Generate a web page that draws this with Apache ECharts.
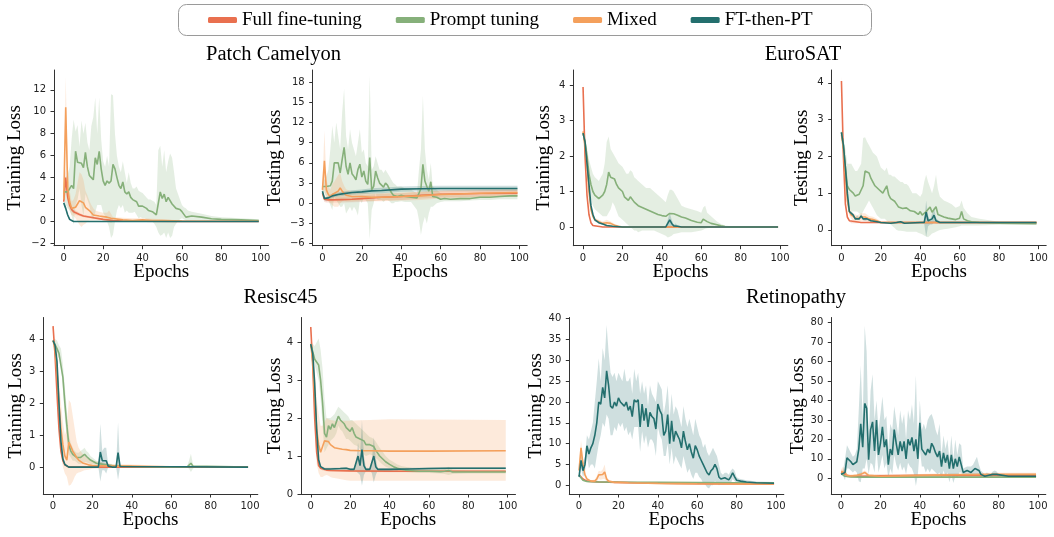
<!DOCTYPE html>
<html>
<head>
<meta charset="utf-8">
<script src="https://cdn.jsdelivr.net/npm/echarts@6/dist/echarts.min.js"></script>
<style>
  html, body { margin: 0; padding: 0; background: #fff; }
  #chart { width: 1054px; height: 537px; }
</style>
</head>
<body>
<div id="chart"></div>
<script>
// rows are [epoch, mean, lower, upper]
const seriesNames = ['Full fine-tuning', 'Prompt tuning', 'Mixed', 'FT-then-PT'];
const epochTicks = [0, 20, 40, 60, 80, 100];

// ---- Patch Camelyon, training
const pcTrFull = [[0,1.8,1.6,2.0],[1,4.0,3.2,4.8],[2,2.2,1.8,2.6],[3,1.5,1.2,1.8],[4,1.1,0.9,1.3],[5,0.9,0.7,1.1],[6,0.8,0.6,1.0],[8,0.65,0.5,0.8],[10,0.5,0.4,0.6],[15,0.35,0.25,0.45],[20,0.2,0.12,0.28],[25,0.1,0.05,0.15],[30,0.05,0.02,0.08],[40,0.02,0,0.04],[60,0.01,0,0.02],[99,0,0,0.01]];
const pcTrPT = [[0,2.7,2.0,3.5],[1,2.8,1.5,4.0],[2,2.7,1.2,4.3],[3,3.0,1.0,5.0],[4,3.3,0.5,7.5],[5,3.0,-0.3,9.3],[6,6.4,1.5,8.2],[7,5.4,2.0,8.8],[8,5.5,3.0,6.8],[9,5.3,1.5,9.2],[10,4.9,0.5,8.0],[11,6.3,2.5,9.0],[12,5.0,2.0,7.2],[13,4.2,1.5,6.5],[14,4.0,0.5,8.7],[15,3.8,0.2,9.5],[16,5.8,0.8,11.3],[17,5.2,1.5,8.0],[18,6.4,1.5,11.3],[19,4.8,1.5,7.5],[20,3.7,0.8,5.5],[21,3.3,0.5,5.0],[22,3.7,0.0,6.0],[23,3.5,-0.5,5.0],[24,3.7,-1.5,11.6],[25,5.2,-1.2,11.5],[26,4.8,0.0,8.0],[27,4.0,1.0,6.0],[28,3.3,1.5,5.0],[29,3.0,1.2,4.5],[30,3.6,1.5,5.5],[31,2.7,0.8,4.5],[32,2.5,1.0,3.5],[33,2.7,0.8,4.5],[34,2.2,0.8,3.5],[35,2.0,0.8,3.0],[36,2.0,0.9,3.0],[37,1.8,0.6,3.2],[38,1.4,0.3,2.8],[39,1.5,0.4,2.7],[40,1.4,0.3,2.6],[41,1.3,0.3,2.4],[42,1.2,0.2,2.2],[43,1.0,0.1,2.0],[44,1.0,0.0,2.0],[45,0.9,0.0,1.9],[46,0.8,-0.2,1.8],[47,0.6,-0.5,1.5],[48,0.6,-1.0,6.5],[49,2.7,-1.3,6.9],[50,2.1,-1.2,5.0],[51,2.5,-1.0,6.5],[52,1.8,-1.5,4.5],[53,2.2,-1.0,5.5],[54,2.3,-1.5,6.2],[55,1.6,-1.3,5.8],[56,1.7,-0.5,4.5],[57,1.2,-0.2,3.0],[58,1.2,0.0,2.5],[59,1.1,0.2,2.0],[60,0.9,0.3,1.5],[61,0.8,0.2,1.3],[62,0.4,0.1,1.2],[63,0.5,0.1,1.0],[65,0.5,0.1,0.9],[70,0.4,0.1,0.7],[75,0.25,0.05,0.5],[80,0.2,0.05,0.4],[90,0.15,0.02,0.3],[99,0.1,0,0.2]];
const pcTrMix = [[0,2.0,1.5,2.5],[1,10.4,7.5,13.2],[2,3.0,1.5,5.0],[3,1.8,1.0,2.8],[4,1.2,0.6,1.8],[5,1.2,0.5,2.0],[6,1.3,0.3,2.5],[7,1.6,0.0,3.5],[8,1.9,-0.3,4.5],[9,1.9,-0.5,4.3],[10,1.7,-0.3,3.8],[11,1.3,-0.2,2.8],[12,1.2,0.0,2.4],[13,1.0,0.1,1.9],[14,0.8,0.1,1.5],[15,0.6,0.1,1.2],[16,0.5,0.1,1.0],[18,0.5,0.1,0.9],[20,0.45,0.1,0.8],[22,0.4,0.0,0.8],[23,0.5,0.0,1.0],[24,0.3,-0.1,0.7],[25,0.15,0.0,0.4],[30,0.15,0.0,0.35],[35,0.1,0.0,0.3],[40,0.15,0.0,0.3],[45,0.1,0.0,0.25],[50,0.1,0.0,0.2],[60,0.05,0.0,0.1],[80,0.03,0,0.06],[99,0.02,0,0.04]];
const pcTrFtpt = [[0,1.7,1.5,1.9],[1,1.2,1.0,1.4],[2,0.6,0.45,0.75],[3,0.2,0.1,0.3],[4,0.05,0,0.1],[5,0.01,0,0.02],[10,0,0,0.01],[99,0,0,0.01]];
const pcTrTicks = [-2, 0, 2, 4, 6, 8, 10, 12];

// ---- Patch Camelyon, testing
const pcTeFull = [[0,1.5,1.0,2.0],[1,0.6,0.2,1.0],[2,0.5,0.1,0.9],[3,0.5,0.1,0.9],[5,0.5,0.1,0.9],[10,0.55,0.1,1.0],[15,0.6,0.15,1.05],[20,0.7,0.2,1.2],[25,0.8,0.3,1.3],[30,0.9,0.4,1.4],[40,1.0,0.5,1.5],[50,1.2,0.7,1.7],[60,1.35,0.85,1.85],[80,1.45,0.95,1.95],[99,1.5,1.0,2.0]];
const pcTePT = [[0,2.5,2.0,3.0],[1,2.5,1.5,3.5],[2,2.5,1.0,4.0],[3,2.7,0.5,5.0],[4,2.6,-0.3,8.0],[5,3.3,-1.0,11.5],[6,6.0,1.0,9.0],[7,5.8,0.5,12.0],[8,6.0,0.0,10.0],[9,4.5,-0.5,8.0],[10,6.5,-0.5,13.5],[11,8.3,0.0,17.0],[12,5.5,-1.5,10.0],[13,4.3,-1.0,8.0],[14,6.0,-0.5,11.0],[15,4.4,-1.2,9.0],[16,4.0,-0.5,8.0],[17,3.5,-1.0,7.0],[18,5.0,-1.8,9.0],[19,5.8,0.5,11.0],[20,3.9,0.0,7.5],[21,4.8,1.0,8.0],[22,3.3,0.5,6.0],[23,2.8,0.0,5.5],[24,6.8,-5.3,19.0],[25,2.0,-1.0,5.0],[26,2.5,0.0,5.5],[27,4.8,1.5,7.0],[28,3.8,0.5,6.0],[29,3.0,0.5,5.0],[30,2.8,0.5,5.0],[31,2.4,0.2,4.5],[32,3.0,0.5,5.0],[33,2.7,0.5,4.5],[34,2.1,0.3,4.0],[35,1.6,0.0,3.5],[36,1.2,0.0,3.0],[37,1.4,0.2,2.8],[38,1.0,0.2,2.5],[40,1.2,0.3,2.5],[42,1.0,0.2,2.2],[45,0.9,0.2,2.0],[48,0.8,-1.0,1.5],[49,1.5,-2.5,5.0],[50,2.2,-4.7,8.0],[51,5.8,-3.0,16.0],[52,3.3,-2.0,8.0],[53,2.5,-3.0,5.0],[54,1.8,-1.5,3.5],[55,3.2,-0.5,6.0],[56,1.0,-0.5,2.5],[58,0.9,0.0,2.0],[60,0.6,0.2,1.5],[62,0.7,0.3,1.3],[65,0.6,0.3,1.2],[70,0.7,0.3,1.2],[75,0.7,0.4,1.2],[80,0.9,0.5,1.2],[85,0.9,0.5,1.3],[90,1.0,0.6,1.3],[95,1.1,0.6,1.3],[99,1.1,0.6,1.4]];
const pcTeMix = [[0,2.0,1.2,2.8],[1,6.3,2.0,10.8],[2,2.0,0.5,3.5],[3,1.3,0.3,2.5],[4,1.0,0.0,2.0],[5,1.3,-0.3,2.9],[6,1.3,-0.5,3.2],[8,1.8,-0.5,4.2],[9,2.3,0.0,4.5],[10,1.8,0.3,3.3],[11,1.5,0.4,2.6],[12,1.2,0.3,2.1],[15,1.0,0.3,1.7],[20,1.0,0.4,1.6],[25,0.9,0.3,1.5],[30,0.9,0.3,1.5],[40,1.0,0.4,1.6],[50,1.1,0.5,1.7],[60,1.3,0.7,1.9],[80,1.5,0.9,2.1],[99,1.6,1.0,2.2]];
const pcTeFtpt = [[0,1.8,1.4,2.2],[1,0.7,0.4,1.0],[2,0.6,0.3,0.9],[3,0.8,0.5,1.1],[4,1.0,0.7,1.3],[5,1.1,0.8,1.4],[6,1.2,0.9,1.5],[8,1.3,1.0,1.6],[10,1.4,1.1,1.7],[15,1.6,1.25,1.95],[20,1.7,1.35,2.05],[25,1.85,1.45,2.25],[30,1.9,1.5,2.3],[40,2.1,1.7,2.5],[50,2.15,1.75,2.55],[60,2.2,1.8,2.6],[80,2.2,1.8,2.6],[99,2.2,1.8,2.6]];
const pcTeTicks = [-6, -3, 0, 3, 6, 9, 12, 15, 18];

// ---- EuroSAT, training
const esTrFull = [[0,3.95,3.85,4.1],[1,2.0,1.9,2.1],[2,0.9,0.85,0.95],[3,0.35,0.3,0.4],[4,0.12,0.1,0.14],[5,0.04,0.03,0.05],[6,0.01,0,0.02],[10,0,0,0.01],[99,0,0,0.01]];
const esTrPT = [[0,2.65,2.6,2.7],[1,2.4,2.2,2.55],[2,2.0,1.7,2.25],[3,1.5,1.2,1.9],[4,1.2,0.8,1.7],[5,1.0,0.6,1.5],[6,0.9,0.5,1.4],[7,0.85,0.45,1.35],[8,0.8,0.4,1.3],[9,0.85,0.35,1.4],[10,0.9,0.3,1.5],[11,1.0,0.3,1.8],[12,1.2,0.3,2.4],[13,1.55,0.4,2.55],[14,1.4,0.5,2.2],[15,1.45,0.7,2.1],[16,1.35,0.6,2.0],[17,1.2,0.45,1.9],[18,1.1,0.3,1.8],[19,1.05,0.25,1.75],[20,1.0,0.2,1.7],[21,0.85,0.15,1.6],[22,0.9,0.1,1.5],[23,0.75,0.05,1.5],[24,0.85,0.0,1.6],[25,0.9,-0.05,1.55],[26,0.7,-0.1,1.4],[27,0.65,-0.1,1.35],[28,0.6,-0.15,1.3],[30,0.55,-0.1,1.2],[32,0.5,-0.1,1.1],[34,0.45,-0.1,1.1],[36,0.4,-0.1,1.0],[38,0.35,-0.15,0.9],[40,0.32,-0.2,0.8],[42,0.3,-0.25,0.7],[43,0.35,-0.3,0.9],[44,0.38,-0.28,1.05],[45,0.4,-0.25,1.05],[46,0.37,-0.2,1.0],[48,0.33,-0.18,0.8],[50,0.28,-0.15,0.6],[52,0.25,-0.15,0.55],[55,0.18,-0.15,0.5],[58,0.13,-0.12,0.45],[60,0.12,-0.1,0.4],[61,0.22,-0.08,0.55],[62,0.25,-0.05,0.6],[63,0.15,-0.04,0.4],[65,0.1,-0.02,0.3],[68,0.06,0.0,0.15],[70,0.03,0.0,0.08],[72,0.01,0.0,0.04],[75,0,0,0.02],[99,0,0,0.01]];
const esTrMix = [[0,2.7,2.6,2.8],[1,2.3,2.2,2.4],[2,1.8,1.7,1.9],[3,1.0,0.9,1.1],[4,0.5,0.45,0.55],[5,0.3,0.25,0.35],[6,0.2,0.15,0.25],[8,0.15,0.1,0.2],[10,0.1,0.06,0.15],[12,0.12,0.05,0.2],[14,0.1,0.05,0.15],[16,0.05,0.02,0.08],[18,0.02,0,0.04],[20,0,0,0.01],[99,0,0,0.01]];
const esTrFtpt = [[0,2.65,2.6,2.7],[1,2.4,2.35,2.45],[2,1.8,1.75,1.85],[3,1.2,1.15,1.25],[4,0.6,0.55,0.65],[5,0.35,0.3,0.4],[6,0.2,0.17,0.23],[8,0.12,0.1,0.14],[10,0.08,0.06,0.1],[12,0.04,0.03,0.05],[15,0.02,0.01,0.03],[20,0,0,0.01],[42,0,0,0.01],[43,0.1,0,0.2],[44,0.2,0,0.4],[45,0.1,0,0.2],[46,0.03,0,0.06],[47,0.05,0,0.1],[48,0.02,0,0.04],[50,0,0,0.01],[99,0,0,0.01]];
const esTrTicks = [0, 1, 2, 3, 4];

// ---- EuroSAT, testing
const esTeFull = [[0,4.05,3.9,4.2],[1,2.0,1.9,2.1],[2,0.7,0.65,0.75],[3,0.35,0.32,0.38],[4,0.25,0.23,0.27],[5,0.2,0.18,0.22],[10,0.2,0.18,0.22],[99,0.2,0.18,0.22]];
const esTePT = [[0,2.65,2.6,2.7],[1,2.3,2.1,2.5],[2,1.7,1.2,2.2],[3,1.2,0.7,1.8],[4,1.1,0.6,1.8],[5,1.1,0.5,1.8],[6,1.0,0.5,1.7],[7,0.92,0.5,1.6],[8,0.95,0.5,1.6],[9,0.97,0.45,1.7],[10,1.0,0.4,1.8],[11,1.2,0.5,2.5],[12,1.6,0.6,2.52],[13,1.55,0.7,2.4],[14,1.55,0.8,2.3],[15,1.4,0.7,2.2],[16,1.35,0.6,2.1],[17,1.2,0.5,2.05],[18,1.15,0.4,2.0],[19,1.1,0.35,1.85],[20,1.05,0.3,1.7],[21,1.0,0.3,1.65],[22,1.0,0.3,1.6],[23,1.2,0.25,1.7],[24,0.95,0.2,1.5],[25,0.85,0.15,1.5],[26,0.8,0.1,1.45],[27,0.78,0.05,1.45],[28,0.7,0.0,1.4],[29,0.62,-0.02,1.35],[30,0.65,-0.02,1.3],[31,0.58,-0.03,1.3],[32,0.55,-0.04,1.25],[33,0.6,-0.05,1.25],[34,0.55,-0.05,1.2],[35,0.52,-0.05,1.1],[36,0.48,-0.05,1.0],[37,0.5,-0.05,1.0],[38,0.45,-0.05,1.0],[39,0.42,-0.08,0.95],[40,0.5,-0.1,0.9],[41,0.4,-0.12,1.0],[42,0.45,-0.15,1.3],[43,0.5,-0.18,1.5],[44,0.55,-0.2,1.3],[45,0.62,-0.15,1.15],[46,0.48,-0.1,1.0],[47,0.5,-0.08,1.2],[48,0.63,-0.05,1.5],[49,0.42,-0.02,1.1],[50,0.38,0.0,0.9],[52,0.35,0.02,0.8],[54,0.32,0.03,0.75],[56,0.3,0.05,0.7],[58,0.28,0.07,0.6],[60,0.32,0.1,0.65],[61,0.5,0.12,0.8],[62,0.3,0.12,0.6],[64,0.25,0.12,0.45],[66,0.22,0.12,0.35],[70,0.2,0.12,0.3],[80,0.18,0.14,0.22],[99,0.17,0.14,0.2]];
const esTeMix = [[0,2.6,2.5,2.7],[1,2.2,2.1,2.3],[2,1.5,1.4,1.6],[3,0.8,0.7,0.9],[4,0.5,0.4,0.6],[5,0.4,0.3,0.5],[6,0.35,0.25,0.45],[8,0.3,0.2,0.4],[10,0.35,0.25,0.45],[12,0.35,0.25,0.45],[14,0.3,0.22,0.38],[16,0.28,0.2,0.36],[18,0.25,0.2,0.3],[20,0.2,0.17,0.23],[99,0.2,0.17,0.23]];
const esTeFtpt = [[0,2.65,2.6,2.7],[1,2.3,2.25,2.35],[2,1.7,1.65,1.75],[3,1.0,0.95,1.05],[4,0.5,0.45,0.55],[5,0.45,0.4,0.5],[6,0.4,0.35,0.45],[7,0.3,0.26,0.34],[8,0.35,0.3,0.4],[9,0.3,0.26,0.34],[10,0.38,0.33,0.43],[11,0.3,0.26,0.34],[12,0.28,0.24,0.32],[13,0.3,0.26,0.34],[14,0.28,0.24,0.32],[15,0.25,0.22,0.28],[16,0.27,0.24,0.3],[18,0.22,0.2,0.24],[20,0.2,0.18,0.22],[25,0.18,0.16,0.2],[28,0.2,0.18,0.22],[30,0.22,0.2,0.24],[32,0.18,0.16,0.2],[40,0.2,0.18,0.22],[42,0.2,0.18,0.22],[43,0.48,-0.2,0.8],[44,0.25,0.1,0.4],[45,0.2,0.15,0.25],[46,0.3,0.15,0.45],[47,0.4,0.2,0.6],[48,0.25,0.18,0.32],[50,0.2,0.18,0.22],[60,0.2,0.18,0.22],[99,0.2,0.18,0.22]];
const esTeTicks = [0, 1, 2, 3, 4];

// ---- Resisc45, training
const rsTrFull = [[0,4.4,4.35,4.45],[1,3.5,3.4,3.6],[2,2.3,2.2,2.4],[3,1.2,1.1,1.3],[4,0.5,0.45,0.55],[5,0.2,0.17,0.23],[6,0.07,0.05,0.09],[7,0.02,0.01,0.03],[8,0,0,0.01],[99,0,0,0.01]];
const rsTrPT = [[0,3.95,3.9,4.0],[1,3.9,3.8,4.0],[2,3.7,3.5,3.95],[3,3.55,3.4,3.8],[4,3.5,3.3,3.7],[5,2.8,2.4,3.2],[6,2.0,1.5,2.5],[7,1.3,0.9,1.8],[8,0.7,0.4,1.0],[9,0.5,0.3,0.75],[10,0.4,0.2,0.6],[11,0.35,0.2,0.5],[12,0.3,0.15,0.45],[13,0.28,0.1,0.45],[14,0.3,0.1,0.5],[15,0.35,0.12,0.55],[16,0.4,0.15,0.6],[17,0.33,0.15,0.5],[18,0.28,0.12,0.45],[19,0.22,0.1,0.35],[20,0.18,0.08,0.3],[22,0.12,0.05,0.2],[24,0.1,0.04,0.16],[26,0.08,0.03,0.13],[28,0.06,0.02,0.1],[30,0.05,0.02,0.08],[35,0.03,0.01,0.05],[40,0.02,0,0.04],[50,0.01,0,0.02],[60,0,0,0.01],[68,0,0,0.01],[69,0.05,-0.05,0.2],[70,0.12,-0.15,0.42],[71,0.03,-0.05,0.1],[72,0,0,0.01],[99,0,0,0.01]];
const rsTrMix = [[0,3.95,3.9,4.0],[1,3.7,3.4,3.95],[2,3.0,2.5,3.5],[3,2.0,1.3,2.7],[4,1.2,0.4,2.0],[5,0.7,0.0,1.4],[6,0.35,-0.2,1.0],[7,0.22,-0.3,1.2],[8,0.78,-0.58,2.1],[9,0.65,-0.55,2.0],[10,0.5,-0.45,1.6],[11,0.4,-0.3,1.2],[12,0.3,-0.2,0.8],[13,0.22,-0.17,0.6],[14,0.17,-0.15,0.5],[15,0.13,-0.12,0.42],[16,0.1,-0.1,0.35],[18,0.07,-0.08,0.25],[20,0.05,-0.05,0.2],[25,0.04,-0.04,0.14],[30,0.03,-0.03,0.1],[40,0.03,-0.02,0.08],[50,0.02,-0.01,0.06],[60,0.01,0,0.03],[99,0,0,0.01]];
const rsTrFtpt = [[0,3.95,3.9,4.0],[1,3.8,3.75,3.85],[2,3.3,3.2,3.4],[3,2.0,1.9,2.1],[4,0.8,0.7,0.9],[5,0.25,0.2,0.3],[6,0.08,0.05,0.1],[7,0.02,0.01,0.03],[8,0,0,0.01],[23,0,0,0.01],[24,0.47,-0.45,1.35],[25,0.2,-0.1,0.5],[26,0.25,-0.1,0.6],[27,0.2,-0.2,0.6],[28,0.03,0,0.06],[30,0,0,0.01],[32,0,0,0.01],[33,0.45,-0.4,1.4],[34,0.02,0,0.04],[35,0,0,0.01],[99,0,0,0.01]];
const rsTrTicks = [0, 1, 2, 3, 4];

// ---- Resisc45, testing
const rsTeFull = [[0,4.4,4.35,4.45],[1,3.4,3.3,3.5],[2,2.0,1.9,2.1],[3,1.1,1.05,1.15],[4,0.75,0.72,0.78],[5,0.68,0.65,0.71],[6,0.65,0.62,0.68],[8,0.63,0.6,0.66],[10,0.62,0.59,0.65],[20,0.61,0.58,0.64],[40,0.6,0.57,0.63],[99,0.6,0.57,0.63]];
const rsTePT = [[0,3.95,3.9,4.0],[1,3.75,3.6,3.95],[2,3.55,3.4,3.9],[3,3.6,3.2,4.0],[4,3.4,3.0,4.1],[5,3.0,2.5,3.8],[6,2.4,1.8,3.3],[7,1.6,1.1,2.5],[8,1.5,1.2,2.0],[9,1.8,1.3,2.0],[10,1.7,1.4,2.0],[11,1.85,1.45,2.05],[12,1.75,1.5,2.1],[13,1.9,1.6,2.2],[14,2.05,1.8,2.3],[15,1.95,1.7,2.25],[16,1.9,1.65,2.2],[17,1.85,1.55,2.15],[18,1.75,1.45,2.1],[19,1.8,1.45,2.05],[20,1.65,1.4,1.95],[21,1.75,1.35,1.95],[22,1.6,1.3,1.9],[23,1.5,1.28,1.85],[24,1.55,1.25,1.8],[25,1.45,1.18,1.75],[26,1.4,1.1,1.7],[27,1.4,1.05,1.65],[28,1.3,1.0,1.6],[29,1.35,1.02,1.55],[30,1.3,1.05,1.5],[31,1.25,1.02,1.48],[32,1.25,1.0,1.45],[33,1.15,0.95,1.38],[34,1.1,0.9,1.3],[35,1.0,0.85,1.22],[36,0.95,0.8,1.15],[38,0.85,0.72,1.0],[40,0.78,0.68,0.9],[42,0.72,0.64,0.84],[44,0.68,0.6,0.78],[46,0.65,0.59,0.74],[48,0.63,0.58,0.72],[50,0.62,0.57,0.7],[55,0.6,0.55,0.66],[60,0.6,0.55,0.65],[66,0.59,0.54,0.64],[68,0.6,0.53,0.66],[70,0.62,0.5,0.72],[72,0.58,0.53,0.64],[80,0.58,0.54,0.62],[99,0.58,0.54,0.62]];
const rsTeMix = [[0,3.95,3.9,4.0],[1,3.5,3.0,3.9],[2,2.6,1.8,3.3],[3,1.7,0.8,2.5],[4,1.3,0.55,2.1],[5,1.1,0.45,1.8],[6,1.25,0.45,1.8],[7,1.4,0.48,1.9],[8,1.45,0.5,2.0],[9,1.38,0.48,1.97],[10,1.3,0.45,1.95],[11,1.25,0.43,1.94],[12,1.22,0.42,1.93],[14,1.2,0.4,1.93],[16,1.18,0.38,1.93],[18,1.17,0.36,1.93],[20,1.15,0.35,1.93],[25,1.14,0.35,1.94],[30,1.14,0.35,1.95],[40,1.13,0.35,1.97],[60,1.13,0.35,1.96],[99,1.14,0.35,1.95]];
const rsTeFtpt = [[0,3.95,3.9,4.0],[1,3.7,3.65,3.75],[2,2.9,2.85,2.95],[3,1.7,1.65,1.75],[4,0.9,0.86,0.94],[5,0.72,0.69,0.75],[6,0.68,0.65,0.71],[7,0.66,0.63,0.69],[10,0.66,0.63,0.69],[15,0.67,0.64,0.7],[18,0.68,0.65,0.71],[20,0.65,0.62,0.68],[22,0.65,0.62,0.68],[23,0.7,0.6,0.8],[24,1.0,0.55,1.35],[25,0.75,0.5,1.0],[26,1.17,0.22,1.95],[27,0.75,0.5,1.0],[28,0.65,0.6,0.7],[30,0.65,0.62,0.68],[31,0.7,0.55,0.85],[32,1.0,0.3,1.5],[33,0.72,0.5,0.95],[34,0.65,0.62,0.68],[40,0.65,0.62,0.68],[50,0.66,0.63,0.69],[60,0.67,0.64,0.7],[70,0.68,0.65,0.71],[99,0.68,0.65,0.71]];
const rsTeTicks = [0, 1, 2, 3, 4];

// ---- Retinopathy, training
const rtTrFull = [[0,2.5,2.0,3.0],[1,2.0,1.6,2.4],[2,1.5,1.2,1.8],[3,1.2,1.0,1.4],[4,1.0,0.8,1.2],[5,0.9,0.7,1.1],[10,0.8,0.6,1.0],[20,0.7,0.5,0.9],[40,0.5,0.35,0.65],[60,0.4,0.25,0.55],[99,0.3,0.15,0.45]];
const rtTrPT = [[0,2.5,2.2,2.8],[1,1.8,1.5,2.1],[2,1.2,1.0,1.4],[3,1.0,0.85,1.15],[4,0.9,0.8,1.0],[5,0.85,0.75,0.95],[10,0.8,0.7,0.9],[20,0.75,0.65,0.85],[40,0.7,0.6,0.8],[60,0.65,0.55,0.75],[80,0.6,0.5,0.7],[99,0.6,0.5,0.7]];
const rtTrMix = [[0,3.5,2.5,4.5],[1,9.0,7.0,10.8],[2,5.0,3.5,6.5],[3,2.5,1.8,3.2],[4,1.5,1.1,1.9],[5,1.2,0.9,1.5],[6,1.0,0.8,1.2],[8,1.0,0.7,1.4],[9,1.5,0.9,2.2],[10,2.5,1.5,3.5],[11,2.3,1.3,3.3],[12,2.6,1.5,3.8],[13,3.2,1.5,5.0],[14,1.5,0.9,2.1],[15,1.0,0.7,1.3],[16,0.8,0.6,1.0],[18,0.7,0.5,0.9],[20,0.7,0.5,0.9],[25,0.6,0.4,0.8],[30,0.55,0.35,0.75],[40,0.45,0.25,0.65],[50,0.4,0.2,0.6],[60,0.35,0.15,0.55],[80,0.3,0.1,0.5],[99,0.3,0.1,0.5]];
const rtTrFtpt = [[0,2.0,1.5,2.5],[1,6.0,4,8],[2,3.5,2,5],[3,5.0,3,7],[4,9.5,7,12],[5,7.5,4,11],[6,9.0,5,13],[7,10.0,5,15],[8,12.0,4,20],[9,15,7,25],[10,20,10,30.5],[11,19.5,12,25],[12,23.5,15,33],[13,21,14,30],[14,27.5,17,38.5],[15,24,16,32],[16,19,12,27],[17,18.5,12,26],[18,20,14,27],[19,19,13,25],[20,21,15,27],[21,20,14,26],[22,20.3,15,25],[23,19,13,28],[24,20,14,25],[25,18,12,25],[26,19,13,26],[27,16.5,11,22],[28,20.5,14,28],[29,20,14,25],[30,20.5,14,27],[31,14,8,22],[32,19.5,13,25],[33,15.5,10,22],[34,18.5,12,24],[35,14,9,19],[36,17.5,11,24],[37,16.5,11,22],[38,16,10,21],[39,13.5,7,20],[40,19.5,14,25],[41,18,12,24],[42,17,11,23],[43,12,7,17],[44,13,7,20],[45,17,10,24],[46,10,5,16],[47,15.5,9,22],[48,10.5,5,17],[49,13,7,19],[50,12,6,18],[51,11,5,16],[52,9,4,14],[53,13,7,19],[54,10.5,5,16],[55,8.5,3,14],[56,10,4,16],[57,8,2.5,14],[58,6.5,1.5,12],[59,9.5,3,16],[60,8.5,3,14],[61,7,2,12],[62,6,1.5,11],[63,5,0.5,9],[64,5,0.2,10],[65,3,-0.5,8],[66,2.5,-0.8,7],[67,3.5,0,8],[68,4,0,9],[69,5,1,8],[70,4,0.5,7],[71,2,0,5],[72,1.5,0.2,3],[73,1.2,0.2,2.5],[74,1.8,0.3,3],[75,1.5,0.3,3],[76,1.3,0.3,2.5],[77,2,0.5,3.5],[78,3,1.5,4],[79,2,1,3.5],[80,1.2,0.5,2],[81,1.0,0.5,1.6],[82,1.0,0.5,1.5],[85,0.8,0.4,1.2],[90,0.6,0.35,0.9],[99,0.5,0.3,0.8]];
const rtTrTicks = [0, 5, 10, 15, 20, 25, 30, 35, 40];

// ---- Retinopathy, testing
const rtTeFull = [[0,3.0,2.0,4.0],[1,3.5,2.5,4.5],[2,2.0,1.2,2.8],[3,1.2,0.5,1.9],[4,1.0,0.3,1.7],[10,1.0,0.2,1.8],[20,1.2,0.4,2.0],[40,1.4,0.6,2.2],[60,1.5,0.7,2.3],[80,1.5,0.7,2.3],[99,1.6,0.8,2.4]];
const rtTePT = [[0,2.5,2.0,3.0],[1,1.5,1.1,1.9],[2,1.0,0.7,1.3],[3,0.8,0.6,1.0],[5,0.7,0.5,0.9],[10,0.6,0.4,0.8],[99,0.6,0.4,0.8]];
const rtTeMix = [[0,3.5,2.5,4.5],[1,4.5,3.0,6.0],[2,3.0,2.0,4.0],[3,1.5,0.8,2.2],[5,1.2,0.5,1.9],[8,1.5,0.8,2.2],[10,2.0,1.2,2.8],[12,3.0,2.0,4.0],[13,2.5,1.6,3.4],[14,1.5,0.8,2.2],[15,1.2,0.5,1.9],[20,1.0,0.3,1.7],[30,1.2,0.5,1.9],[40,1.5,0.8,2.2],[60,1.8,1.0,2.6],[80,2.0,1.2,2.8],[99,2.0,1.2,2.8]];
const rtTeFtpt = [[0,2.0,1.5,2.5],[1,2.5,1.5,4],[2,3.0,-1,10],[3,10.5,5,17],[4,9.5,5,15],[5,8.5,4,13],[6,7,3,11],[7,8,4,12],[8,8.5,3,15],[9,15,-1.5,35],[10,28,-2,58],[11,16,5,30],[12,38.5,5,78.5],[13,36,10,65],[14,9.5,2,20],[15,25,8,45],[16,29,7,53.5],[17,14,3,30],[18,30,15,40],[19,12,3,25],[20,18,7,33],[21,26.5,12,42],[22,16,5,30],[23,20,8,32],[24,7,0,15],[25,15,5,28],[26,12,2,25],[27,25,12,37],[28,18,7,30],[29,12,4,22],[30,19,8,35],[31,14,4,28],[32,19,6,33],[33,10,2,20],[34,20,8,35],[35,17,6,30],[36,21,5,38],[37,14,2,28],[38,20,-4,53],[39,10,2,18],[40,28.5,15,40],[41,15,6,25],[42,16,6,28],[43,12,3,25],[44,15,5,30],[45,13,3,32],[46,18,5,33],[47,16,4,30],[48,13,3,25],[49,11,2,22],[50,14,3,28],[51,6,0,12],[52,13,4,22],[53,8,1,15],[54,12,3,20],[55,5,-2,10],[56,12,2,22],[57,5,-2.5,10],[58,10,1,20],[59,6,0,12],[60,11,3,18],[61,10.5,3,17],[62,3,1,5],[63,3,1,5.5],[64,4,1.5,6],[65,3.5,1.2,6],[66,3,1,6],[67,4,1.5,7],[68,5,2,9],[69,5.5,1,11],[70,4,1,7],[71,2,0.5,4],[72,1.5,0.5,3],[73,1,0.5,2],[74,2,0.6,3],[75,1.5,0.8,2.5],[76,1.2,0.6,2],[77,2,0.8,3.5],[78,3,1.5,4],[79,2,1,3.5],[80,1.2,0.8,2],[85,1.0,0.8,1.5],[90,1.0,0.8,1.2],[99,1.0,0.8,1.2]];
const rtTeTicks = [0, 10, 20, 30, 40, 50, 60, 70, 80];

const colors = ['#E9704F', '#86B07A', '#F4A05C', '#236F6E'];
const serif = "'Liberation Serif', 'Times New Roman', serif";

const panels = [
  { yName: 'Training Loss', data: [pcTrFull, pcTrPT, pcTrMix, pcTrFtpt], ticks: pcTrTicks, yMin: -2.2, yMax: 13.8, left: 54, top: 70, h: 175.7, gapY: 29 },
  { yName: 'Testing Loss', data: [pcTeFull, pcTePT, pcTeMix, pcTeFtpt], ticks: pcTeTicks, yMin: -6.3, yMax: 19.8, left: 312.7, top: 70, h: 175.7, gapY: 28 },
  { yName: 'Training Loss', data: [esTrFull, esTrPT, esTrMix, esTrFtpt], ticks: esTrTicks, yMin: -0.53, yMax: 4.43, left: 573.3, top: 70, h: 175.7, gapY: 20 },
  { yName: 'Testing Loss', data: [esTeFull, esTePT, esTeMix, esTeFtpt], ticks: esTeTicks, yMin: -0.43, yMax: 4.35, left: 831.7, top: 70, h: 175.7, gapY: 20 },
  { yName: 'Training Loss', data: [rsTrFull, rsTrPT, rsTrMix, rsTrFtpt], ticks: rsTrTicks, yMin: -0.84, yMax: 4.67, left: 43.3, top: 317.5, h: 176.5, gapY: 18 },
  { yName: 'Testing Loss', data: [rsTeFull, rsTePT, rsTeMix, rsTeFtpt], ticks: rsTeTicks, yMin: 0, yMax: 4.65, left: 301, top: 317.5, h: 176.5, gapY: 16.5 },
  { yName: 'Training Loss', data: [rtTrFull, rtTrPT, rtTrMix, rtTrFtpt], ticks: rtTrTicks, yMin: -2.1, yMax: 40.3, left: 569.3, top: 317.5, h: 176.5, gapY: 24 },
  { yName: 'Testing Loss', data: [rtTeFull, rtTePT, rtTeMix, rtTeFtpt], ticks: rtTeTicks, yMin: -8.1, yMax: 82.7, left: 831.3, top: 317.5, h: 176.5, gapY: 24 }
];

const fmtMinus = v => String(v).replace('-', '\u2212');
const axisLine = { show: true, onZero: false, lineStyle: { color: '#333', width: 1 } };
const tickLabel = { color: '#222', fontSize: 10, fontFamily: 'DejaVu Sans' };

const grid = [], xAxis = [], yAxis = [], series = [];

panels.forEach((p, i) => {
  grid.push({ left: p.left, top: p.top, width: 214.5, height: p.h });
  xAxis.push({
    gridIndex: i, type: 'value', min: -4.95, max: 103.95,
    name: 'Epochs', nameLocation: 'middle', nameGap: 17, nameMoveOverlap: false,
    nameTextStyle: { fontFamily: serif, fontSize: 19, color: '#000', verticalAlign: 'top' },
    axisLine, splitLine: { show: false },
    axisTick: { length: 3.5, customValues: epochTicks, lineStyle: { color: '#333' } },
    axisLabel: Object.assign({ margin: 7.5, customValues: epochTicks, formatter: fmtMinus }, tickLabel)
  });
  yAxis.push({
    gridIndex: i, type: 'value', min: p.yMin, max: p.yMax,
    name: p.yName, nameLocation: 'middle', nameGap: p.gapY, nameMoveOverlap: false,
    nameTextStyle: { fontFamily: serif, fontSize: 19, color: '#000' },
    axisLine, splitLine: { show: false },
    axisTick: { length: 3.5, customValues: p.ticks, lineStyle: { color: '#333' } },
    axisLabel: Object.assign({ margin: 8, customValues: p.ticks, formatter: fmtMinus }, tickLabel)
  });

  p.data.forEach((rows, k) => {
    // shaded band between lower and upper
    series.push({
      type: 'custom', xAxisIndex: i, yAxisIndex: i, silent: true, clip: true,
      name: 'band' + i + '_' + k,
      data: rows.map(r => [r[0], r[2], r[3]]),
      encode: { x: 0, y: [1, 2] },
      renderItem: (params, api) => {
        if (params.dataIndex !== 0) return;
        const upper = rows.map(r => api.coord([r[0], r[3]]));
        const lower = rows.map(r => api.coord([r[0], r[2]])).reverse();
        return {
          type: 'polygon',
          shape: { points: upper.concat(lower) },
          style: { fill: colors[k], opacity: 0.22 }
        };
      }
    });
    series.push({
      type: 'line', name: seriesNames[k], xAxisIndex: i, yAxisIndex: i,
      data: rows.map(r => [r[0], r[1]]),
      symbol: 'none', clip: true, color: colors[k],
      lineStyle: { width: 1.6, color: colors[k] }
    });
  });
});

const chart = echarts.init(document.getElementById('chart'));
chart.setOption({
  animation: false,
  backgroundColor: '#fff',
  grid, xAxis, yAxis, series,
  legend: {
    data: seriesNames,
    left: 208, top: 10.5, padding: 0,
    icon: 'roundRect', itemWidth: 29, itemHeight: 6, itemGap: 34,
    textStyle: { fontFamily: serif, fontSize: 19, color: '#000' }
  },
  graphic: [
    { type: 'rect', shape: { x: 178.5, y: 4.5, width: 693, height: 31, r: 8 }, style: { fill: 'none', stroke: '#9a9a9a', lineWidth: 1 }, z: -1 },
    { type: 'text', x: 273.5, y: 55, style: { text: 'Patch Camelyon', fontFamily: serif, fontSize: 20.5, fill: '#000', align: 'center', verticalAlign: 'middle' } },
    { type: 'text', x: 803, y: 55, style: { text: 'EuroSAT', fontFamily: serif, fontSize: 20.5, fill: '#000', align: 'center', verticalAlign: 'middle' } },
    { type: 'text', x: 280.5, y: 297.5, style: { text: 'Resisc45', fontFamily: serif, fontSize: 20.5, fill: '#000', align: 'center', verticalAlign: 'middle' } },
    { type: 'text', x: 796, y: 297.5, style: { text: 'Retinopathy', fontFamily: serif, fontSize: 20.5, fill: '#000', align: 'center', verticalAlign: 'middle' } }
  ]
});
</script>
</body>
</html>
